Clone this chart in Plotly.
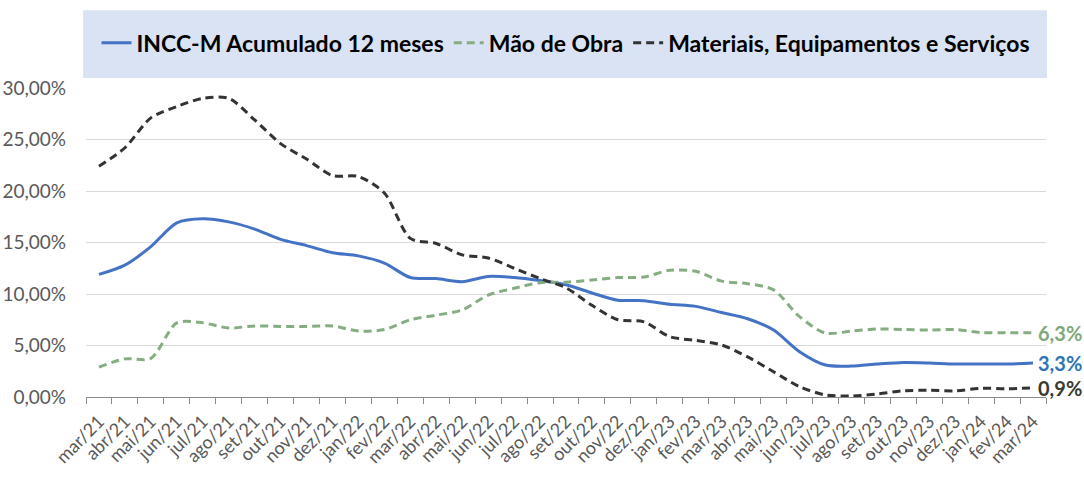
import plotly.graph_objects as go

meses = ["mar/21", "abr/21", "mai/21", "jun/21", "jul/21", "ago/21", "set/21", "out/21",
         "nov/21", "dez/21", "jan/22", "fev/22", "mar/22", "abr/22", "mai/22", "jun/22",
         "jul/22", "ago/22", "set/22", "out/22", "nov/22", "dez/22", "jan/23", "fev/23",
         "mar/23", "abr/23", "mai/23", "jun/23", "jul/23", "ago/23", "set/23", "out/23",
         "nov/23", "dez/23", "jan/24", "fev/24", "mar/24"]

incc_m = [11.9, 12.8, 14.6, 16.9, 17.3, 17.0, 16.3, 15.3, 14.7, 14.0, 13.7, 13.0,
          11.6, 11.5, 11.2, 11.7, 11.6, 11.3, 10.9, 10.1, 9.4, 9.35, 9.0, 8.8,
          8.2, 7.6, 6.5, 4.4, 3.1, 3.0, 3.2, 3.35, 3.3, 3.2, 3.2, 3.2, 3.3]

mao_de_obra = [2.9, 3.7, 3.75, 7.2, 7.2, 6.7, 6.9, 6.85, 6.85, 6.9, 6.4, 6.55,
               7.5, 7.95, 8.45, 9.9, 10.55, 11.1, 11.15, 11.35, 11.6, 11.65, 12.3, 12.2,
               11.25, 11.0, 10.4, 7.8, 6.2, 6.4, 6.6, 6.55, 6.5, 6.55, 6.25, 6.25, 6.25]

materiais = [22.4, 24.2, 27.1, 28.2, 29.0, 29.0, 26.9, 24.6, 23.1, 21.5, 21.4, 19.8,
             15.4, 14.9, 13.8, 13.5, 12.5, 11.5, 10.6, 8.9, 7.5, 7.3, 5.85, 5.5,
             5.05, 3.9, 2.45, 1.0, 0.2, 0.1, 0.3, 0.6, 0.65, 0.6, 0.85, 0.8, 0.9]

nomes = ["INCC-M Acumulado 12 meses", "Mão de Obra", "Materiais, Equipamentos e Serviços"]
rotulos_finais = ["3,3%", "6,3%", "0,9%"]
y_ticks = [0, 5, 10, 15, 20, 25, 30]
y_ticktext = ["0,00%", "5,00%", "10,00%", "15,00%", "20,00%", "25,00%", "30,00%"]

cores = ["#4472C4", "#86AD82", "#333333"]
cores_rot = ["#2E75B6", "#7FA87A", "#3A3A2E"]
dashes = ["solid", "8px,5px", "8px,5px"]
series = [incc_m, mao_de_obra, materiais]

FONT = "Lato"

fig = go.Figure()
for nome, vals, cor, dash in zip(nomes, series, cores, dashes):
    fig.add_trace(go.Scatter(
        x=meses, y=vals, mode="lines", name=nome,
        line=dict(color=cor, width=3, dash=dash, shape="spline", smoothing=0.8),
        hoverinfo="skip",
    ))

for vals, txt, cor in zip(series, rotulos_finais, cores_rot):
    fig.add_annotation(
        x=meses[-1], y=vals[-1], text="<b>" + txt + "</b>", showarrow=False,
        xanchor="left", yanchor="middle", xshift=3,
        font=dict(family=FONT, size=20, color=cor),
    )

# legend background band
fig.add_shape(type="rect", xref="paper", yref="paper",
              x0=-0.003, x1=1.001, y0=1.032, y1=1.252,
              fillcolor="#DAE3F3", line=dict(width=0), layer="below")

fig.update_layout(
    width=1084, height=486,
    margin=dict(l=86, r=38, t=88, b=89, autoexpand=False),
    paper_bgcolor="white", plot_bgcolor="white",
    font=dict(family=FONT, color="#595959"),
    showlegend=True,
    legend=dict(orientation="h", x=0.5, xanchor="center", y=1.146, yanchor="middle",
                bgcolor="rgba(0,0,0,0)", font=dict(family=FONT, size=23, color="black", weight="bold"),
                itemwidth=30, tracegroupgap=0),
    xaxis=dict(type="category", range=[-0.5, len(meses) - 0.5], tickson="boundaries",
               ticks="outside", ticklen=6, tickcolor="#898989", showline=True,
               linecolor="#898989", linewidth=1, showgrid=False, tickangle=-45,
               ticklabelstandoff=6, automargin=False,
               tickfont=dict(family=FONT, size=18, color="#595959")),
    yaxis=dict(range=[0, 30], tickvals=y_ticks, ticktext=y_ticktext, showgrid=True,
               gridcolor="#D9D9D9", gridwidth=1, zeroline=False, showline=False,
               ticks="", ticklabelstandoff=19, automargin=False,
               tickfont=dict(family=FONT, size=19, color="#595959")),
)

fig.write_html("out.html")
